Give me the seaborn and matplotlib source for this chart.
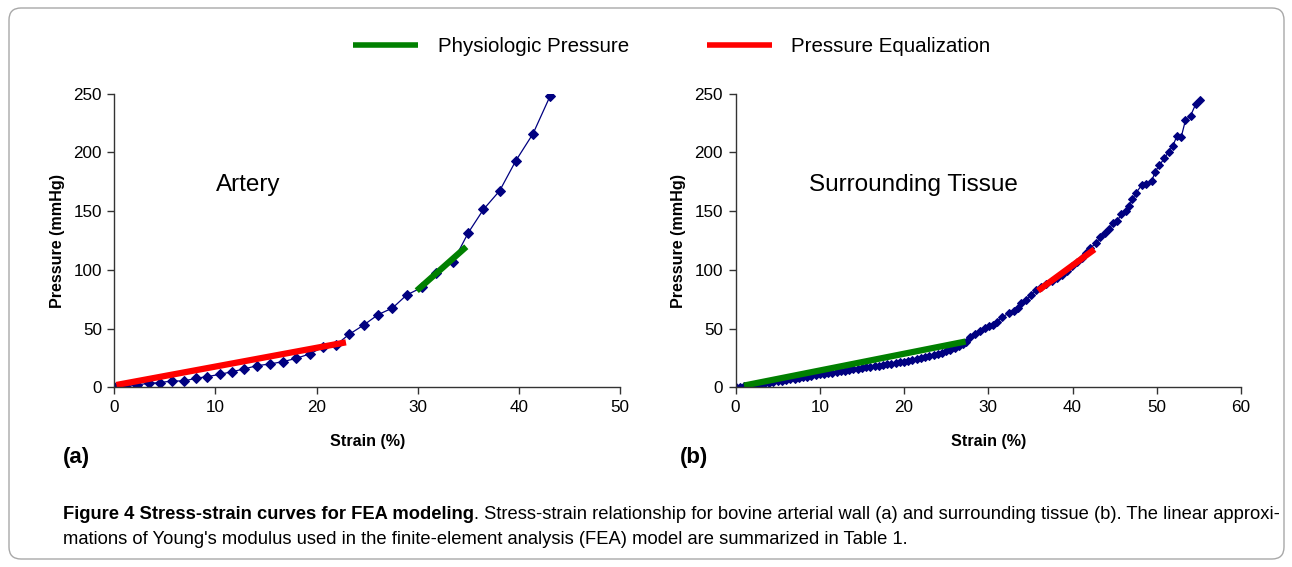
import matplotlib
matplotlib.use('Agg')
import matplotlib.pyplot as plt
import seaborn as sns
from matplotlib import font_manager
from matplotlib.lines import Line2D
from matplotlib.patches import FancyBboxPatch
from matplotlib.transforms import IdentityTransform

# Artery (a)
artery_strain = [0, 1.2, 2.2, 3.4, 4.5, 5.7, 6.9, 8.05, 9.2, 10.4, 11.65, 12.8, 14.1, 15.4, 16.7,
                 18.0, 19.3, 20.6, 21.9, 23.2, 24.65, 26.1, 27.5, 28.9, 30.4, 31.85, 33.5, 35.0,
                 36.5, 38.1, 39.7, 41.4, 43.1]
artery_pressure = [0, 0.6, 2, 3.4, 4, 5.4, 5.4, 7.7, 9.1, 11, 13.3, 15.6, 18.4, 19.9, 21.9,
                   24.7, 28.4, 34, 36, 45, 53, 62, 67.5, 78.6, 85, 97, 107, 131.7,
                   151.5, 167.4, 193, 216, 248.3]
artery_phys_x = [29.9, 34.8]
artery_phys_y = [82.3, 119.7]
artery_equal_x = [0.2, 22.9]
artery_equal_y = [2.0, 38.3]

# Surrounding tissue (b)
tissue_strain = [0, 0.5, 1, 1.5, 2, 2.5, 3, 3.5, 4, 4.5, 5, 5.5, 6, 6.5, 7, 7.5, 8, 8.5, 9, 9.5,
                 10, 10.5, 11, 11.5, 12, 12.5, 13, 13.5, 14, 14.5, 15, 15.5, 16, 16.5, 17, 17.5,
                 18, 18.5, 19, 19.5, 20, 20.5, 21, 21.5, 22, 22.5, 23, 23.5, 24, 24.5, 25, 25.5,
                 26, 26.5, 27, 27.4, 27.8, 28.4, 29.0, 29.6, 30.1, 30.6, 31.0, 31.6, 32.4, 33.0,
                 33.5, 33.9, 34.5, 35.1, 35.7, 36.3, 36.9, 37.5, 38.1, 38.7, 39.3, 39.9, 40.5,
                 41.1, 41.6, 42.1, 42.8, 43.3, 43.8, 44.3, 44.8, 45.3, 45.8, 46.3, 46.7, 47.1,
                 47.5, 48.2, 48.7, 49.4, 49.8, 50.3, 50.9, 51.4, 51.9, 52.4, 52.9, 53.4, 54.0,
                 54.6, 55.1]
tissue_pressure = [0, 0.4, 0.9, 1.5, 2.0, 2.5, 3.1, 3.6, 4.1, 4.6, 5.2, 5.8, 6.3, 6.9, 7.5, 8.0,
                   8.7, 9.2, 9.8, 10.5, 11.1, 11.6, 12.1, 12.6, 13.0, 13.5, 14.1, 14.6, 15.2,
                   15.8, 16.4, 16.9, 17.4, 18.0, 18.5, 19.0, 19.6, 20.1, 20.7, 21.2, 21.9, 22.6,
                   23.3, 24.0, 24.8, 25.5, 26.3, 27.2, 28.1, 29.1, 30.5, 31.8, 33.2, 34.8, 36.8,
                   39.0, 42.6, 45.4, 47.7, 50.2, 52.2, 53.0, 55.9, 59.6, 63.0, 65.2, 67.2, 72.0,
                   74.3, 78.6, 82.8, 85.5, 88.2, 90.5, 93.0, 95.5, 99.0, 103.5, 106.5, 110.0,
                   114.0, 118.3, 123.1, 127.7, 131.1, 134.5, 140.1, 141.8, 147.3, 150.1, 154.3,
                   160.0, 165.2, 172.2, 173.1, 175.9, 183.5, 189.2, 194.9, 200.6, 205.7, 214.2,
                   213.3, 227.5, 231.2, 240.9, 244.6]
tissue_phys_x = [1.0, 27.3]
tissue_phys_y = [1.5, 39.0]
tissue_equal_x = [35.9, 42.6]
tissue_equal_y = [82.3, 117.5]

NAVY = '#000080'
GREEN = '#008000'
RED = '#ff0000'

sns.set_style('white')
plt.rcParams['font.family'] = ['Liberation Sans', 'DejaVu Sans']
for k in ['text.color', 'axes.labelcolor', 'xtick.color', 'ytick.color']:
    plt.rcParams[k] = 'black'

fig = plt.figure(figsize=(12.92, 5.67), dpi=100)
ax_a = fig.add_axes([0.0885, 0.3169, 0.3914, 0.5178])
ax_b = fig.add_axes([0.5693, 0.3169, 0.3913, 0.5178])

panels = [
    (ax_a, artery_strain, artery_pressure, artery_phys_x, artery_phys_y,
     artery_equal_x, artery_equal_y, 5.5, (0, 50), 'Artery', 10),
    (ax_b, tissue_strain, tissue_pressure, tissue_phys_x, tissue_phys_y,
     tissue_equal_x, tissue_equal_y, 3.7, (0, 60), 'Surrounding Tissue', 8.7),
]

for ax, sx, sy, px, py, ex, ey, ms, xlim, name, name_x in panels:
    sns.lineplot(x=sx, y=sy, ax=ax, color=NAVY, lw=0.9, marker='D', markersize=ms,
                 markeredgecolor=NAVY, sort=False, estimator=None)
    sns.lineplot(x=px, y=py, ax=ax, color=GREEN, lw=4.5, sort=False, estimator=None,
                 solid_capstyle='butt')
    sns.lineplot(x=ex, y=ey, ax=ax, color=RED, lw=4.5, sort=False, estimator=None,
                 solid_capstyle='butt')
    ax.set_xlim(*xlim)
    ax.set_ylim(0, 250)
    ax.set_xticks(range(xlim[0], xlim[1] + 1, 10))
    ax.set_yticks(range(0, 251, 50))
    for s in ['top', 'right']:
        ax.spines[s].set_visible(False)
    for s in ['left', 'bottom']:
        ax.spines[s].set_color('#333333')
        ax.spines[s].set_linewidth(1.0)
    ax.tick_params(direction='out', length=5, width=1, color='#333333', labelsize=12.3, pad=4,
                   bottom=True, left=True)
    ax.set_xlabel('Strain (%)', fontsize=11.6, fontweight='bold', labelpad=14)
    ax.set_ylabel('Pressure (mmHg)', fontsize=11.6, fontweight='bold', labelpad=6)
    ax.text(name_x, 172, name, fontsize=17.5, va='center', ha='left')

fig.text(63 / 1292, 1 - 457 / 567, '(a)', fontsize=16, fontweight='bold', va='center')
fig.text(680 / 1292, 1 - 457 / 567, '(b)', fontsize=16, fontweight='bold', va='center')

handles = [Line2D([], [], color=GREEN, lw=4, solid_capstyle='butt'),
           Line2D([], [], color=RED, lw=4, solid_capstyle='butt')]
fig.legend(handles, ['Physiologic Pressure', 'Pressure Equalization'], loc='center',
           bbox_to_anchor=(0.52, 1 - 47 / 567), ncol=2, frameon=False, fontsize=14.8,
           handlelength=3.15, handletextpad=0.95, columnspacing=3.8)

# caption, condensed face if there is one
names = {f.name for f in font_manager.fontManager.ttflist}
cap_font = 'Liberation Sans Narrow' if 'Liberation Sans Narrow' in names else 'Liberation Sans'
cap_size = 11
bold_part = 'Figure 4 Stress-strain curves for FEA modeling'
rest_1 = ('. Stress-strain relationship for bovine arterial wall (a) and surrounding tissue (b). '
          'The linear approxi-')
line_2 = ('mations of Young\'s modulus used in the finite-element analysis (FEA) model are '
          'summarized in Table 1.')

t1 = fig.text(63 / 1292, 1 - 519 / 567, bold_part, fontsize=cap_size, fontweight='bold',
              family=cap_font, va='baseline')
t2 = fig.text(0, 0, rest_1, fontsize=cap_size, family=cap_font, va='baseline')
t3 = fig.text(63 / 1292, 1 - 544 / 567, line_2, fontsize=cap_size, family=cap_font,
              va='baseline')

# fit first caption line to the frame width
renderer = fig.canvas.get_renderer()
w = t1.get_window_extent(renderer).width + t2.get_window_extent(renderer).width
cap_size = cap_size * (1276 - 63) / w
for t in (t1, t2, t3):
    t.set_fontsize(cap_size)
bb = t1.get_window_extent(renderer)
t2.set_position((bb.x1 / fig.bbox.width, 1 - 519 / 567))

fig.patches.append(FancyBboxPatch((9, 8), 1275, 551, boxstyle='round,pad=0,rounding_size=12',
                                  transform=IdentityTransform(), fill=False,
                                  edgecolor='#a8a8a8', lw=1.0, figure=fig))

fig.savefig('out.png', dpi=100)
